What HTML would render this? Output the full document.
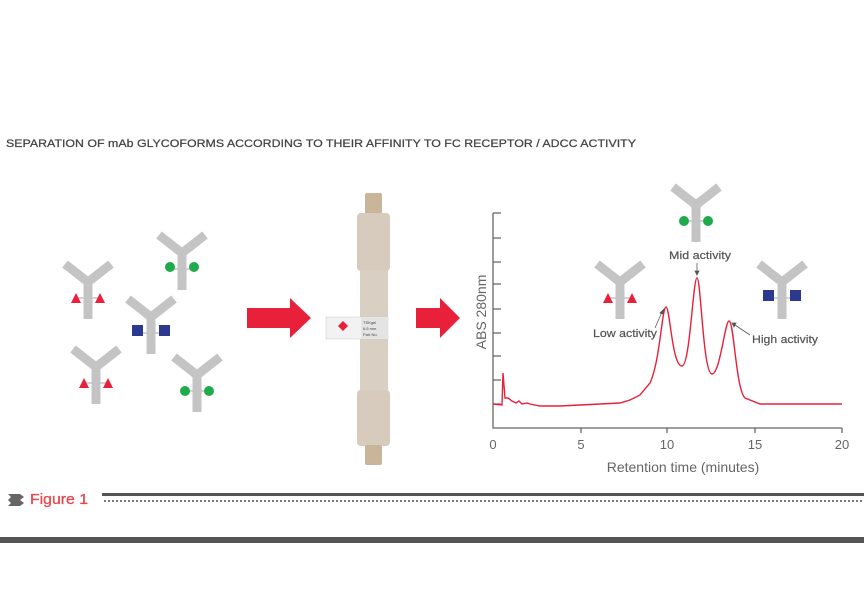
<!DOCTYPE html>
<html><head><meta charset="utf-8"><style>
html,body{margin:0;padding:0;background:#fff;}
svg{display:block;}
</style></head><body>
<svg width="864" height="600" viewBox="0 0 864 600" xmlns="http://www.w3.org/2000/svg" font-family="Liberation Sans, sans-serif">
<defs>
<g id="y">
<path d="M-23 -18 L0 0 L23 -18 M0 0 L0 37" stroke="#c4c4c4" stroke-width="9" fill="none" stroke-linecap="butt" stroke-linejoin="miter"/>
<line x1="-12" y1="16" x2="12" y2="16" stroke="#c4c4c4" stroke-width="1.5"/>
</g>
<g id="tri"><polygon points="-17,21 -12,11 -7,21" fill="#e8203a"/><polygon points="7,21 12,11 17,21" fill="#e8203a"/></g>
<g id="dot"><circle cx="-12" cy="14" r="5" fill="#1faa4b"/><circle cx="12" cy="14" r="5" fill="#1faa4b"/></g>
<g id="sq"><rect x="-19" y="14" width="11" height="11" fill="#2b3990"/><rect x="8" y="14" width="11" height="11" fill="#2b3990"/></g>
</defs>

<text x="6" y="147" font-size="11" fill="#444" textLength="630" lengthAdjust="spacingAndGlyphs" stroke="#444" stroke-width="0.25">SEPARATION OF mAb GLYCOFORMS ACCORDING TO THEIR AFFINITY TO FC RECEPTOR / ADCC ACTIVITY</text>

<g transform="translate(88,282)"><use href="#y"/><use href="#tri"/></g>
<g transform="translate(182,253)"><use href="#y"/><use href="#dot"/></g>
<g transform="translate(151,317)"><use href="#y"/><use href="#sq" transform="translate(0,-6)"/></g>
<g transform="translate(96,367)"><use href="#y"/><use href="#tri"/></g>
<g transform="translate(197,375)"><use href="#y"/><use href="#dot" transform="translate(0,2)"/></g>

<polygon points="247,308 290,308 290,298 311,318 290,338 290,328 247,328" fill="#e8203a"/>
<polygon points="416,308 440,308 440,298 460,318 440,338 440,328 416,328" fill="#e8203a"/>

<rect x="365" y="193" width="17" height="21" rx="2" fill="#c9b69a"/>
<rect x="357" y="213" width="33" height="58" rx="4" fill="#d6cbbd"/>
<rect x="360" y="270" width="28" height="121" fill="#d9cfc2"/>
<rect x="357" y="390" width="33" height="56" rx="4" fill="#d6cbbd"/>
<rect x="365" y="445" width="17" height="20" rx="2" fill="#c9b69a"/>
<rect x="326" y="317" width="62" height="22" fill="#f2f2f2" stroke="#ccc" stroke-width="0.5"/>
<rect x="361" y="317" width="27" height="22" fill="#e4e4e4"/>
<polygon points="343,321 348,326 343,331 338,326" fill="#e8203a"/>
<text x="363" y="324" font-size="4" fill="#444">TSKgel</text>
<text x="363" y="330" font-size="4" fill="#444">6.6 mm</text>
<text x="363" y="336" font-size="4" fill="#444">Part No.</text>

<g stroke="#666" stroke-width="1.3" fill="none">
<path d="M493 213 L493 428 L842 428"/>
<path d="M493 213h8M493 238h8M493 262h8M493 284h8M493 309h8M493 333h8M493 356h8M493 380h8M493 404h8"/>
<path d="M581 428v5M667 428v5M755 428v5M842 428v5"/>
</g>
<g font-size="13" fill="#666" text-anchor="middle">
<text x="493" y="449">0</text><text x="581" y="449">5</text><text x="667" y="449">10</text><text x="755" y="449">15</text><text x="842" y="449">20</text>
</g>
<text x="683" y="472" font-size="14" fill="#666" text-anchor="middle">Retention time (minutes)</text>
<text transform="translate(486,312) rotate(-90)" font-size="14" fill="#666" text-anchor="middle">ABS 280nm</text>

<path d="M493 404 L502 405 L503 373 L505 398 L508 398 L512 401 L516 403 L519 401 L522 404 L527 403 L530 404 L540 406 L560 406 L580 405 L600 404 L620 403 L630 400 L640 395 L650 383 C660 362,662 307,666 307 C670 307,672 366,682 366 C690 366,693 278,697 278 C701 278,703 374,712 374 C720 374,725 321,729 321 C734 321,736 390,745 398 L760 404 L842 404" stroke="#e8203a" stroke-width="1.4" fill="none"/>

<g transform="translate(620,282)"><use href="#y"/><use href="#tri"/></g>
<g transform="translate(696,205)"><use href="#y"/><use href="#dot" transform="translate(0,2)"/></g>
<g transform="translate(782,282)"><use href="#y"/><use href="#sq" transform="translate(0,-6)"/></g>

<g font-size="11" fill="#555" stroke="#555" stroke-width="0.2">
<text x="593" y="337" textLength="64" lengthAdjust="spacingAndGlyphs">Low activity</text>
<text x="669" y="259" textLength="62" lengthAdjust="spacingAndGlyphs">Mid activity</text>
<text x="752" y="343" textLength="66" lengthAdjust="spacingAndGlyphs">High activity</text>
</g>
<g stroke="#555" stroke-width="0.8" fill="#555">
<line x1="655" y1="328" x2="662" y2="312"/><polygon points="664,309 660,313 663,314"/>
<line x1="697" y1="263" x2="697" y2="272"/><polygon points="695,271 699,271 697,275"/>
<line x1="750" y1="335" x2="735" y2="325"/><polygon points="732,323 736,323 734,327"/>
</g>

<polygon points="8,494 20,494 24,497 20,500 8,500 11,497" fill="#666"/>
<polygon points="8,500 20,500 24,503 20,506 8,506 11,503" fill="#666"/>
<text x="30" y="504" font-size="15" fill="#e8474e" textLength="58" lengthAdjust="spacingAndGlyphs" stroke="#e8474e" stroke-width="0.3">Figure 1</text>
<rect x="102" y="493" width="762" height="3" fill="#555"/>
<line x1="104" y1="501" x2="864" y2="501" stroke="#777" stroke-width="2" stroke-dasharray="2,2"/>
<rect x="0" y="537" width="864" height="6" fill="#555"/>
</svg>
</body></html>
